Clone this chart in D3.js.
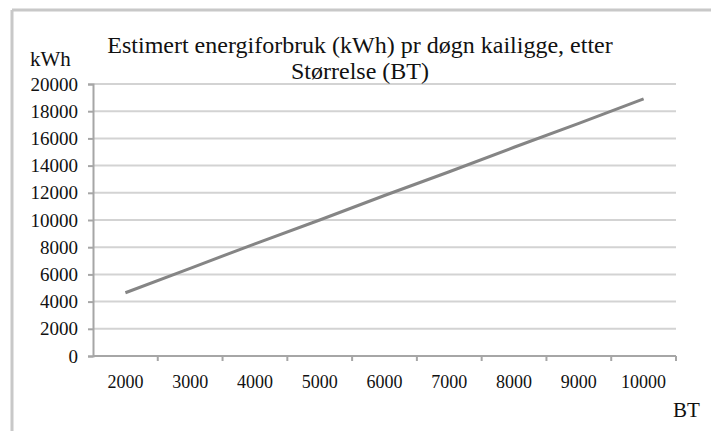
<!DOCTYPE html>
<html>
<head>
<meta charset="utf-8">
<script src="https://cdn.jsdelivr.net/npm/d3@7"></script>
<style>
  body { margin: 0; background: #fff; }
  text { font-family: "Liberation Serif", "Times New Roman", serif; fill: #111; }
</style>
</head>
<body>
<div id="chart"></div>
<script>
var categories = ["2000", "3000", "4000", "5000", "6000", "7000", "8000", "9000", "10000"];
var values     = [4650, 6450, 8250, 10000, 11800, 13550, 15350, 17100, 18900];
var yTicks     = [0, 2000, 4000, 6000, 8000, 10000, 12000, 14000, 16000, 18000, 20000];
var titleLines = ["Estimert energiforbruk (kWh) pr døgn kailigge, etter", "Størrelse (BT)"];

var width  = 711;
var height = 431;
var margin = {left: 93, right: 35, top: 84, bottom: 75};

var svg = d3.select("#chart").append("svg").attr("width", width).attr("height", height);

// outer frame (only top and left visible)
svg.append("line").attr("x1", 12).attr("y1", 10).attr("x2", width).attr("y2", 10).attr("stroke", "#c8c8c8").attr("stroke-width", 3);
svg.append("line").attr("x1", 12).attr("y1", 10).attr("x2", 12).attr("y2", height).attr("stroke", "#c8c8c8").attr("stroke-width", 3);

var x = d3.scaleBand().domain(categories).range([margin.left, width - margin.right]);
var y = d3.scaleLinear().domain([0, 20000]).range([height - margin.bottom, margin.top]);

// gridlines
svg.append("g").selectAll("line").data(yTicks.slice(1)).enter().append("line")
    .attr("x1", margin.left).attr("x2", width - margin.right)
    .attr("y1", function(d){return y(d);}).attr("y2", function(d){return y(d);})
    .attr("stroke", "#d3d3d3").attr("stroke-width", 2);

// y axis
var yAxis = d3.axisLeft(y).tickValues(yTicks).tickFormat(d3.format("d")).tickSize(5).tickPadding(10);
var yg = svg.append("g").attr("transform", "translate(" + margin.left + ",0)").call(yAxis);
yg.select(".domain").attr("stroke", "#a6a6a6").attr("stroke-width", 2);
yg.selectAll(".tick line").attr("stroke", "#a6a6a6").attr("stroke-width", 2);
yg.selectAll(".tick text").style("font-size", "19px").attr("fill", "#111");

// x axis: ticks at category boundaries
var xg = svg.append("g").attr("transform", "translate(0," + y(0) + ")");
xg.append("line").attr("x1", margin.left).attr("x2", width - margin.right)
    .attr("stroke", "#a6a6a6").attr("stroke-width", 2);
xg.selectAll("line.tk").data(categories).enter().append("line").attr("class", "tk")
    .attr("x1", function(d){return x(d) + x.bandwidth();}).attr("x2", function(d){return x(d) + x.bandwidth();})
    .attr("y1", 0).attr("y2", 5).attr("stroke", "#a6a6a6").attr("stroke-width", 2);
xg.selectAll("text").data(categories).enter().append("text")
    .attr("x", function(d){return x(d) + x.bandwidth() / 2;}).attr("y", 32)
    .attr("text-anchor", "middle").style("font-size", "18px").text(function(d){return d;});

// line
var line = d3.line().x(function(d, i){return x(categories[i]) + x.bandwidth() / 2;})
                    .y(function(d){return y(d);});
svg.append("path").attr("d", line(values)).attr("fill", "none")
    .attr("stroke", "#858585").attr("stroke-width", 3);

// title
svg.append("g").selectAll("text").data(titleLines).enter().append("text")
    .attr("x", 360).attr("y", function(d, i){return 53 + i * 26;})
    .attr("text-anchor", "middle").style("font-size", "24px").text(function(d){return d;});

// axis titles
svg.append("text").attr("x", 30).attr("y", 66).style("font-size", "21px").text("kWh");
svg.append("text").attr("x", 673).attr("y", 417).style("font-size", "21px").text("BT");
</script>
</body>
</html>
